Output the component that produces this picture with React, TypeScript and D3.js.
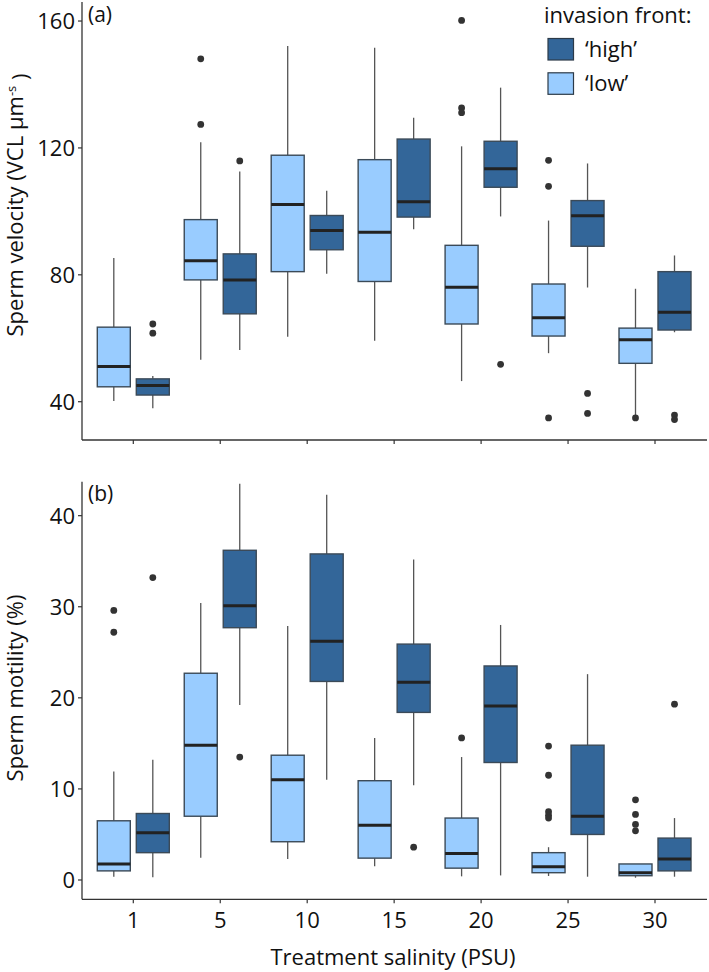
import React from "react";
import * as d3 from "d3";

const salinity = ["1", "5", "10", "15", "20", "25", "30"];
const groups = ["low", "high"];
const legendLabels = ["\u2018high\u2019", "\u2018low\u2019"];

// [whiskerMin, Q1, median, Q3, whiskerMax]
const velocityLow = [
  [40.2, 44.7, 51.1, 63.5, 85.3],
  [53.2, 78.4, 84.4, 97.4, 121.8],
  [60.5, 81.0, 102.2, 117.7, 152.1],
  [59.2, 77.9, 93.4, 116.3, 151.6],
  [46.5, 64.5, 76.1, 89.3, 120.5],
  [55.3, 60.7, 66.5, 77.1, 97.1],
  [34.9, 52.1, 59.5, 63.2, 75.6],
];
const velocityHigh = [
  [37.9, 42.1, 45.1, 47.2, 48.1],
  [56.3, 67.7, 78.4, 86.6, 112.6],
  [80.3, 87.9, 94.0, 98.7, 106.5],
  [94.4, 98.2, 103.0, 122.8, 129.5],
  [98.4, 107.6, 113.4, 122.1, 139.0],
  [76.0, 89.0, 98.6, 103.4, 115.1],
  [61.9, 62.6, 68.2, 81.0, 86.1],
];
const velocityLowOut = [[], [148.1, 127.4], [], [], [160.2, 132.6, 131.1], [116.1, 107.9, 34.9], [34.9]];
const velocityHighOut = [[64.5, 61.6], [115.9], [], [], [51.8], [42.6, 36.3], [35.8, 34.4]];

const motilityLow = [
  [0.36, 1.0, 1.76, 6.5, 11.9],
  [2.45, 7.0, 14.8, 22.7, 30.4],
  [2.3, 4.2, 11.0, 13.7, 27.9],
  [1.5, 2.4, 6.0, 10.9, 15.6],
  [0.4, 1.3, 2.9, 6.8, 13.5],
  [0.44, 0.8, 1.46, 3.0, 3.6],
  [0.25, 0.47, 0.8, 1.76, 1.76],
];
const motilityHigh = [
  [0.3, 3.0, 5.2, 7.3, 13.2],
  [19.2, 27.7, 30.1, 36.2, 43.5],
  [11.0, 21.8, 26.2, 35.8, 42.3],
  [10.4, 18.4, 21.7, 25.9, 35.2],
  [0.5, 12.9, 19.1, 23.5, 28.0],
  [0.36, 5.0, 7.0, 14.8, 22.6],
  [0.36, 1.0, 2.3, 4.6, 6.8],
];
const motilityLowOut = [[29.6, 27.2], [], [], [], [15.6], [14.7, 11.5, 7.5, 7.1, 6.8], [8.8, 7.2, 6.1, 5.4]];
const motilityHighOut = [[33.2], [13.5], [], [3.6], [], [], [19.3]];

const velocityTicks = [40, 80, 120, 160];
const motilityTicks = [0, 10, 20, 30, 40];

const COLORS: Record<string, string> = { low: "#99CCFF", high: "#336699" };
const FONT = "'Open Sans', 'Noto Sans', sans-serif";
const FS = 22;

const W = 709;
const H = 972;
const LEFT = 82;
const RIGHT = 707;

const x = d3.scalePoint<string>().domain(salinity).range([133.3, 655]);
const dodge = d3.scaleBand<string>().domain(groups).range([-39, 39]).paddingInner(0.0);
const BOXW = 33;

type Panel = {
  y: d3.ScaleLinear<number, number>;
  ticks: number[];
  low: number[][];
  high: number[][];
  lowOut: number[][];
  highOut: number[][];
  label: string;
  tag: string;
  showX: boolean;
};

function PanelView({ p, labelY }: { p: Panel; labelY: number }) {
  const [yBottom, yTop] = p.y.range();
  const series: [string, number[][], number[][]][] = [
    ["low", p.low, p.lowOut],
    ["high", p.high, p.highOut],
  ];
  return (
    <g>
      <line x1={LEFT} x2={LEFT} y1={yTop} y2={yBottom} stroke="#333" strokeWidth={1.3} />
      <line x1={LEFT} x2={RIGHT} y1={yBottom} y2={yBottom} stroke="#333" strokeWidth={1.3} />
      {p.ticks.map((t) => (
        <g key={t}>
          <line x1={LEFT - 4} x2={LEFT} y1={p.y(t)} y2={p.y(t)} stroke="#333" strokeWidth={1.2} />
          <text x={LEFT - 7} y={p.y(t)} dy="0.36em" textAnchor="end" fontSize={FS} fill="#111" fontFamily={FONT}>
            {t}
          </text>
        </g>
      ))}
      {salinity.map((s) => (
        <g key={s}>
          <line x1={x(s)} x2={x(s)} y1={yBottom} y2={yBottom + 4} stroke="#333" strokeWidth={1.2} />
          {p.showX && (
            <text x={x(s)} y={yBottom + 21} dy="0.36em" textAnchor="middle" fontSize={FS} fill="#111" fontFamily={FONT}>
              {s}
            </text>
          )}
        </g>
      ))}
      {series.map(([g, stats, outs]) =>
        salinity.map((s, i) => {
          const cx = (x(s) as number) + (dodge(g) as number) + dodge.bandwidth() / 2;
          const [mn, q1, md, q3, mx] = stats[i];
          return (
            <g key={g + s}>
              <line x1={cx} x2={cx} y1={p.y(mx)} y2={p.y(q3)} stroke="#555" strokeWidth={1.3} />
              <line x1={cx} x2={cx} y1={p.y(q1)} y2={p.y(mn)} stroke="#555" strokeWidth={1.3} />
              <rect
                x={cx - BOXW / 2}
                y={p.y(q3)}
                width={BOXW}
                height={Math.max(0.5, p.y(q1) - p.y(q3))}
                fill={COLORS[g]}
                stroke="#3b4a58"
                strokeWidth={1.4}
              />
              <line x1={cx - BOXW / 2} x2={cx + BOXW / 2} y1={p.y(md)} y2={p.y(md)} stroke="#222" strokeWidth={3} />
              {outs[i].map((o, k) => (
                <circle key={k} cx={cx} cy={p.y(o)} r={3.4} fill="#333" />
              ))}
            </g>
          );
        })
      )}
      <text x={88} y={yTop + 12} dy="0.36em" fontSize={21} fill="#111" fontFamily={FONT}>
        {p.tag}
      </text>
      <text
        transform={`translate(15.5,${labelY}) rotate(-90)`}
        dy="0.36em"
        textAnchor="middle"
        fontSize={FS}
        fill="#111"
        fontFamily={FONT}
      >
        {p.label === "velocity" ? (
          <>
            Sperm velocity (VCL µm
            <tspan dy="-0.55em" fontSize={13}>-s</tspan>
            <tspan dy="0.55em"> )</tspan>
          </>
        ) : (
          "Sperm motility (%)"
        )}
      </text>
    </g>
  );
}

export default function App() {
  const yTopPanel = d3.scaleLinear().domain([27.93, 166]).range([440, 2]);
  const yBottomPanel = d3.scaleLinear().domain([-2.12, 43.73]).range([899.3, 481.7]);

  const top: Panel = {
    y: yTopPanel,
    ticks: velocityTicks,
    low: velocityLow,
    high: velocityHigh,
    lowOut: velocityLowOut,
    highOut: velocityHighOut,
    label: "velocity",
    tag: "(a)",
    showX: false,
  };
  const bottom: Panel = {
    y: yBottomPanel,
    ticks: motilityTicks,
    low: motilityLow,
    high: motilityHigh,
    lowOut: motilityLowOut,
    highOut: motilityHighOut,
    label: "motility",
    tag: "(b)",
    showX: true,
  };

  const legendColors = [COLORS.high, COLORS.low];

  return (
    <svg width={W} height={H} style={{ position: "absolute", left: 0, top: 0, background: "#fff" }}>
      <rect width={W} height={H} fill="#fff" />
      <PanelView p={top} labelY={205} />
      <PanelView p={bottom} labelY={688} />
      <text x={393} y={957} dy="0.36em" textAnchor="middle" fontSize={FS} fill="#111" fontFamily={FONT}>
        Treatment salinity (PSU)
      </text>
      <text x={544} y={15.5} dy="0.36em" fontSize={FS} fill="#111" fontFamily={FONT}>
        invasion front:
      </text>
      {legendLabels.map((l, i) => (
        <g key={l}>
          <rect x={548} y={38.5 + i * 34.3} width={25.5} height={21.5} fill={legendColors[i]} stroke="#2c3a48" strokeWidth={1.2} />
          <text x={585} y={49 + i * 34.3} dy="0.36em" fontSize={FS} fill="#111" fontFamily={FONT}>
            {l}
          </text>
        </g>
      ))}
    </svg>
  );
}
